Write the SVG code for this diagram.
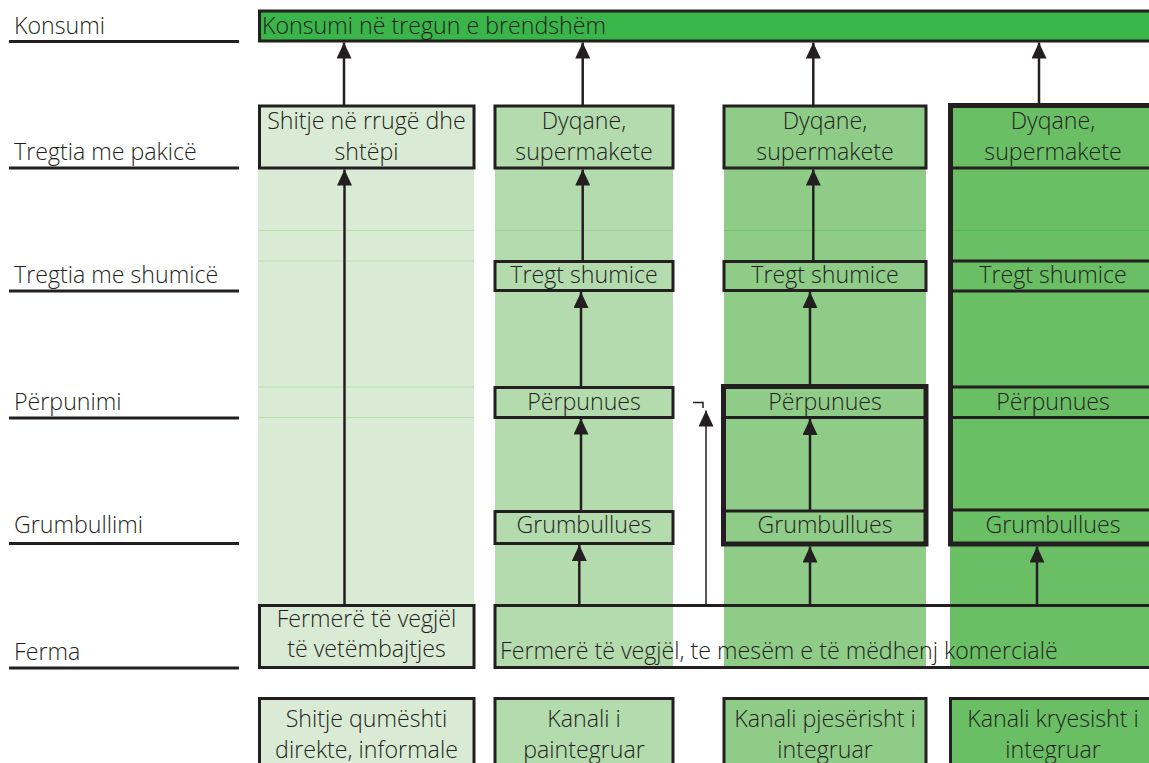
<svg xmlns="http://www.w3.org/2000/svg" width="1149" height="763" viewBox="0 0 1149 763">
<style>
.t{font-family:"Open Sans","Liberation Sans",sans-serif;font-size:23.2px;font-weight:300;fill:#231f20}
.c{text-anchor:middle}
.b{stroke:#231f20;stroke-width:3}
.o{stroke:#231f20;stroke-width:3;fill:none}
.bt{stroke:#231f20;stroke-width:5;fill:none}
.c1{fill:#d9ebd4}.c2{fill:#b3dbad}.c3{fill:#8fcc88}.c4{fill:#6abf65}
.ln{stroke:#231f20;stroke-width:3}
.a{stroke:#231f20;stroke-width:2.5;fill:none;marker-end:url(#ah)}
.faint1{stroke:#b9dfae;stroke-width:1}
</style>
<defs>
<marker id="ah" markerUnits="userSpaceOnUse" viewBox="0 0 16 15" refX="16" refY="7.5" markerWidth="16" markerHeight="15" orient="auto">
<path d="M0,0 L16,7.5 L0,15 z" fill="#231f20"/>
</marker>
</defs>
<g id="backgrounds">
<rect class="c1" x="258" y="168" width="216" height="437"/>
<rect class="c2" x="495" y="106" width="178" height="561"/>
<rect class="c3" x="724" y="106" width="202" height="561"/>
<rect class="c4" x="950" y="105" width="210" height="562"/>
<line class="faint1" x1="258" y1="230.5" x2="474" y2="230.5"/>
<line class="faint1" x1="258" y1="261" x2="474" y2="261"/>
<line class="faint1" x1="258" y1="387" x2="474" y2="387"/>
<line class="faint1" x1="258" y1="417.5" x2="474" y2="417.5"/>
<line stroke="#9ed493" stroke-width="1" x1="495" y1="230.5" x2="673" y2="230.5"/>
<line stroke="#74c46c" stroke-width="1" x1="724" y1="230.5" x2="926" y2="230.5"/>
<line stroke="#4fb84f" stroke-width="1" x1="950" y1="230.5" x2="1160" y2="230.5"/>
</g>
<g id="levels">
<line class="ln" x1="9" y1="41.5" x2="239" y2="41.5"/>
<text class="t" x="14" y="34">Konsumi</text>
<line class="ln" x1="9" y1="168" x2="239" y2="168"/>
<text class="t" x="14" y="160">Tregtia me pakicë</text>
<line class="ln" x1="9" y1="291" x2="239" y2="291"/>
<text class="t" x="14" y="283">Tregtia me shumicë</text>
<line class="ln" x1="9" y1="418" x2="239" y2="418"/>
<text class="t" x="14" y="410">Përpunimi</text>
<line class="ln" x1="9" y1="543.5" x2="239" y2="543.5"/>
<text class="t" x="14" y="533">Grumbullimi</text>
<line class="ln" x1="9" y1="668" x2="239" y2="668"/>
<text class="t" x="14" y="660">Ferma</text>
</g>
<g id="konsumi">
<rect fill="#39b54a" x="259.5" y="11" width="900" height="30"/>
<path class="o" d="M1160,11 H259.5 V41 H1160"/>
<text class="t" x="262" y="33.5">Konsumi në tregun e brendshëm</text>
</g>
<g id="shitje-rruge">
<rect class="b c1" x="259.5" y="106" width="214.5" height="62"/>
<text class="t c" x="366.5" y="128.5">Shitje në rrugë dhe</text>
<text class="t c" x="366.5" y="159.5">shtëpi</text>
</g>
<g id="dyqane-2">
<rect class="b c2" x="495" y="106" width="178" height="62"/>
<text class="t c" x="584" y="128.5">Dyqane,</text>
<text class="t c" x="584" y="159.5">supermakete</text>
</g>
<g id="tregt-2">
<rect class="b c2" x="495" y="261.5" width="178" height="29"/>
<text class="t c" x="584" y="283">Tregt shumice</text>
</g>
<g id="perp-2">
<rect class="b c2" x="495" y="387.5" width="178" height="30"/>
<text class="t c" x="584" y="410">Përpunues</text>
</g>
<g id="grumb-2">
<rect class="b c2" x="495" y="511.5" width="178" height="32"/>
<text class="t c" x="584" y="533">Grumbullues</text>
</g>
<g id="dyqane-3">
<rect class="b c3" x="724" y="106" width="202" height="62"/>
<text class="t c" x="825" y="128.5">Dyqane,</text>
<text class="t c" x="825" y="159.5">supermakete</text>
</g>
<g id="tregt-3">
<rect class="b c3" x="724" y="261.5" width="202" height="29"/>
<text class="t c" x="825" y="283">Tregt shumice</text>
</g>
<g id="perp-grumb-3">
<rect class="bt" x="723.5" y="386.5" width="202.5" height="157.5"/>
<line class="ln" x1="723.5" y1="417.5" x2="926" y2="417.5"/>
<line class="ln" x1="723.5" y1="511" x2="926" y2="511"/>
<text class="t c" x="825" y="410">Përpunues</text>
<text class="t c" x="825" y="533">Grumbullues</text>
</g>
<g id="col4">
<path class="bt" d="M1160,105.5 H950.5 V544 H1160"/>
<line class="ln" x1="950.5" y1="168" x2="1160" y2="168"/>
<line class="ln" x1="950.5" y1="261" x2="1160" y2="261"/>
<line class="ln" x1="950.5" y1="291" x2="1160" y2="291"/>
<line class="ln" x1="950.5" y1="387" x2="1160" y2="387"/>
<line class="ln" x1="950.5" y1="417.5" x2="1160" y2="417.5"/>
<line class="ln" x1="950.5" y1="510" x2="1160" y2="510"/>
<text class="t c" x="1053" y="128.5">Dyqane,</text>
<text class="t c" x="1053" y="159.5">supermakete</text>
<text class="t c" x="1053" y="283">Tregt shumice</text>
<text class="t c" x="1053" y="410">Përpunues</text>
<text class="t c" x="1053" y="533">Grumbullues</text>
</g>
<g id="ferma-1">
<rect class="b c1" x="259.5" y="605.5" width="214.5" height="62"/>
<text class="t c" x="366.5" y="627">Fermerë të vegjël</text>
<text class="t c" x="366.5" y="657">të vetëmbajtjes</text>
</g>
<g id="ferma-2">
<path class="o" d="M1160,605.5 H495 V667.5 H1160"/>
<text class="t" x="500" y="658.5">Fermerë të vegjël, te mesëm e të mëdhenj komercialë</text>
</g>
<g id="kanal-1">
<rect class="b c1" x="259.5" y="698.5" width="214.5" height="80"/>
<text class="t c" x="366.5" y="727">Shitje qumështi</text>
<text class="t c" x="366.5" y="757.5">direkte, informale</text>
</g>
<g id="kanal-2">
<rect class="b c2" x="495" y="698.5" width="178" height="80"/>
<text class="t c" x="584" y="727">Kanali i</text>
<text class="t c" x="584" y="757.5">paintegruar</text>
</g>
<g id="kanal-3">
<rect class="b c3" x="724" y="698.5" width="202" height="80"/>
<text class="t c" x="825" y="727">Kanali pjesërisht i</text>
<text class="t c" x="825" y="757.5">integruar</text>
</g>
<g id="kanal-4">
<rect class="c4" x="950.5" y="698.5" width="210" height="80"/>
<path class="o" d="M1160,698.5 H950.5 V780"/>
<text class="t c" x="1053" y="727">Kanali kryesisht i</text>
<text class="t c" x="1053" y="757.5">integruar</text>
</g>
<g id="connectors">
<line class="a" x1="344" y1="106" x2="344" y2="42.5"/>
<line class="a" x1="582.7" y1="106" x2="582.7" y2="42.5"/>
<line class="a" x1="813.3" y1="106" x2="813.3" y2="42.5"/>
<line class="a" x1="1039" y1="104" x2="1039" y2="42.5"/>
<line class="a" x1="344.5" y1="605" x2="344.5" y2="169.5"/>
<line class="a" x1="582.7" y1="261" x2="582.7" y2="169.5"/>
<line class="a" x1="581" y1="387" x2="581" y2="292"/>
<line class="a" x1="581" y1="511" x2="581" y2="418.5"/>
<line class="a" x1="579.3" y1="605" x2="579.3" y2="545"/>
<line class="a" style="stroke-width:1.5" x1="706" y1="605" x2="706" y2="410.5"/>
<line class="a" x1="813.3" y1="261" x2="813.3" y2="169.5"/>
<line class="a" x1="810" y1="385" x2="810" y2="292"/>
<line class="a" x1="810" y1="510" x2="810" y2="419"/>
<line class="a" x1="810" y1="605" x2="810" y2="546.5"/>
<line class="a" x1="1037" y1="605" x2="1037" y2="546.5"/>
<polyline points="693,402.5 703,402.5 703,408" fill="none" stroke="#231f20" stroke-width="1.5"/>
</g>
</svg>
